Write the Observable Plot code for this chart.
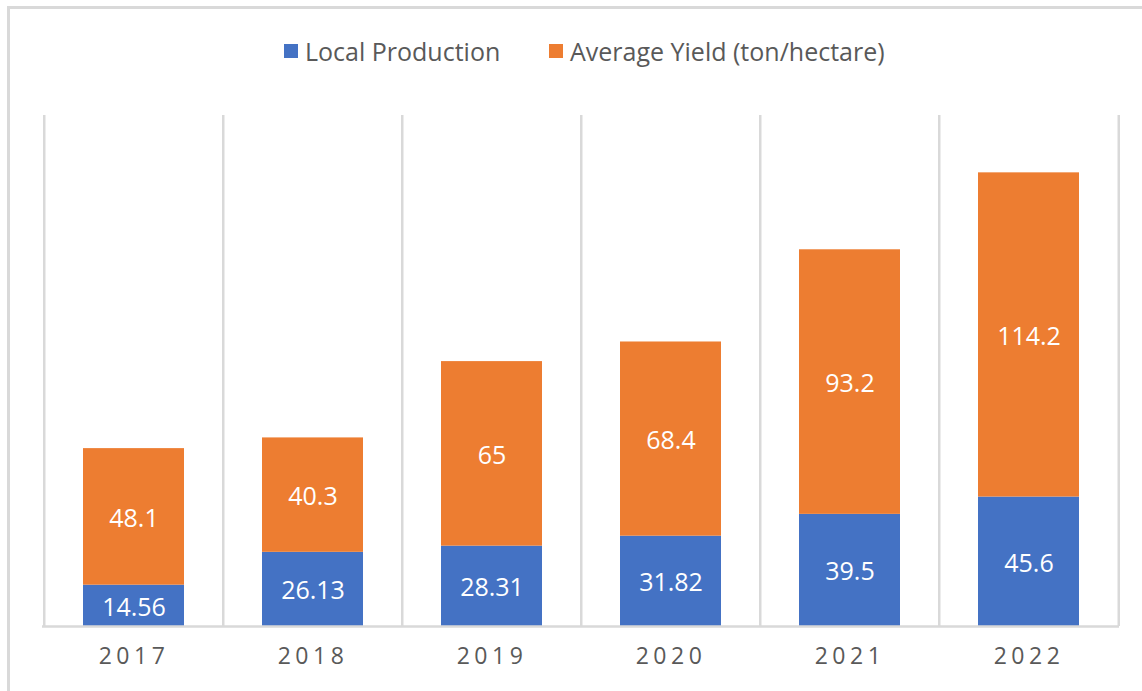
<!DOCTYPE html>
<html>
<head>
<meta charset="utf-8">
<script src="https://cdn.jsdelivr.net/npm/d3@7"></script>
<script src="https://cdn.jsdelivr.net/npm/@observablehq/plot@0.6"></script>
<style>
  html, body { margin: 0; padding: 0; background: #fff; overflow: hidden; }
  #wrap { position: relative; width: 1142px; height: 691px; overflow: hidden; font-family: "Open Sans", sans-serif; background: #fff; }
  #frame { position: absolute; left: 7px; top: 6px; width: 1300px; height: 900px; border: 3px solid #d9d9d9; box-sizing: border-box; z-index: 5; pointer-events: none; }
  #legend { position: absolute; left: 0; top: 0; width: 1142px; height: 100px; }
  .item { position: absolute; top: 34px; display: flex; align-items: center; font-size: 25px; color: #595959; white-space: nowrap; }
  .sw { width: 14px; height: 14px; margin-right: 7px; }
  #chart { position: absolute; left: 0; top: 100px; }
  #chart svg [aria-label="x-axis tick label"] text { letter-spacing: 4.5px; }
</style>
</head>
<body>
<div id="wrap">
  <div id="frame"></div>
  <div id="legend"></div>
  <div id="chart"></div>
</div>
<script>
const years = ["2017", "2018", "2019", "2020", "2021", "2022"];
const series = ["Local Production", "Average Yield (ton/hectare)"];
const localProduction = [14.56, 26.13, 28.31, 31.82, 39.5, 45.6];
const averageYield = [48.1, 40.3, 65, 68.4, 93.2, 114.2];
const colors = ["#4472C4", "#ED7D31"];

const rows = [];
years.forEach((y, i) => rows.push({year: y, series: series[0], value: localProduction[i]}));
years.forEach((y, i) => rows.push({year: y, series: series[1], value: averageYield[i]}));

// legend
const legend = document.getElementById("legend");
const legendLefts = [284, 549];
series.forEach((s, i) => {
  const it = document.createElement("div");
  it.className = "item";
  it.style.left = legendLefts[i] + "px";
  const sw = document.createElement("div");
  sw.className = "sw";
  sw.style.background = colors[i];
  const t = document.createElement("span");
  t.textContent = s;
  it.appendChild(sw);
  it.appendChild(t);
  legend.appendChild(it);
});

const W = 1142, H = 591, mL = 42, mR = 23, mT = 15, mB = 65;
const step = (W - mL - mR) / years.length;

const chart = Plot.plot({
  width: W,
  height: H,
  marginLeft: mL,
  marginRight: mR,
  marginTop: mT,
  marginBottom: mB,
  style: {fontFamily: "Open Sans, sans-serif", background: "transparent"},
  x: {domain: years, padding: 0, label: null},
  y: {domain: [0, 180], axis: null},
  color: {domain: series, range: colors},
  marks: [
    Plot.ruleX(years, {x: d => d, y1: 0, y2: 180, dx: -step / 2, stroke: "#d9d9d9", strokeWidth: 2.5}),
    Plot.ruleX([years[years.length - 1]], {x: d => d, y1: 0, y2: 180, dx: step / 2, stroke: "#d9d9d9", strokeWidth: 2.5}),
    Plot.barY(rows, Plot.stackY({x: "year", y: "value", z: "series", fill: "series", insetLeft: 39, insetRight: 39})),
    Plot.text(rows, Plot.stackY({x: "year", y: "value", z: "series", text: d => String(d.value), fill: "white", fontSize: 25, dy: 2})),
    Plot.ruleY([0], {stroke: "#d9d9d9", strokeWidth: 2.5}),
    Plot.axisX({tickSize: 0, tickPadding: 21, fontSize: 23, fill: "#595959", label: null})
  ]
});
document.getElementById("chart").appendChild(chart);
</script>
</body>
</html>
